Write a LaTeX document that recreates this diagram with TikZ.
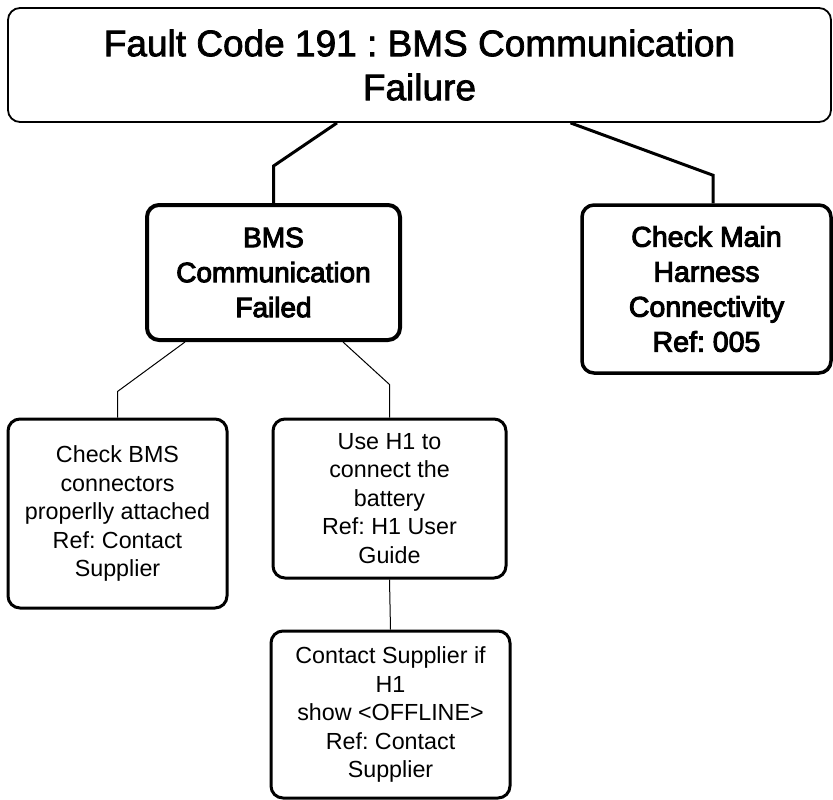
\documentclass[tikz,border=0pt]{standalone}
\usepackage{fontspec}
\setmainfont{Liberation Sans}
\newfontfamily\headfont[FakeBold=2]{Liberation Sans}
\newfontfamily\heavyfont[FakeBold=3.5]{Liberation Sans}
\usepackage{tikz}
\usetikzlibrary{positioning, calc}
\frenchspacing

\begin{document}
\begin{tikzpicture}[x=1pt, y=-1pt,
    box/.style={draw, rounded corners=12pt, align=center, inner sep=0pt},
    stepbox/.style={box, line width=3pt, font=\fontsize{23.3}{28.5}\selectfont},
    trunk/.style={line width=3pt},
    twig/.style={line width=1pt}]
  \useasboundingbox (0,0) rectangle (833,800);

  \node[box, line width=1.8pt, minimum width=823pt, minimum height=114pt,
        font=\headfont\fontsize{37}{44}\selectfont] (fault) at (419.5,65)
    {Fault Code 191 : BMS Communication\\Failure};

  \node[box, line width=4pt, minimum width=253pt, minimum height=135pt,
        font=\heavyfont\fontsize{28}{35}\selectfont] (bms) at (273.5,272.5)
    {BMS\\Communication\\Failed};
  \node[box, line width=3.5pt, minimum width=249pt, minimum height=168pt,
        font=\heavyfont\fontsize{28.5}{35}\selectfont] (harness) at (706.5,289)
    {Check Main\\Harness\\Connectivity\\Ref: 005};

  \node[stepbox, minimum width=219pt, minimum height=189pt] (plug) at (117.5,513.5)
    {Check BMS\\connectors\\properlly attached\\Ref: Contact\\Supplier};
  \node[stepbox, minimum width=233pt, minimum height=159pt] (hone) at (389.5,498.5)
    {Use H1 to\\connect the\\battery\\Ref: H1 User\\Guide};
  \node[stepbox, minimum width=239pt, minimum height=167pt] (supplier) at (390.5,714.5)
    {Contact Supplier if\\H1\\show <OFFLINE>\\Ref: Contact\\Supplier};

  \draw[trunk] ([xshift=-82.5pt]fault.south) -- ([yshift=37pt]bms.north) -- (bms.north);
  \draw[trunk] ([xshift=151pt]fault.south) -- ([xshift=6.5pt, yshift=28pt]harness.north)
    -- ([xshift=6.5pt]harness.north);

  \draw[twig] ([xshift=-88.5pt]bms.south) -- ([yshift=26pt]plug.north) -- (plug.north);
  \draw[twig] ([xshift=69.5pt]bms.south) -- ([yshift=33pt]hone.north) -- (hone.north);
  \draw[twig] (hone.south) -- (supplier.north);
\end{tikzpicture}
\end{document}
